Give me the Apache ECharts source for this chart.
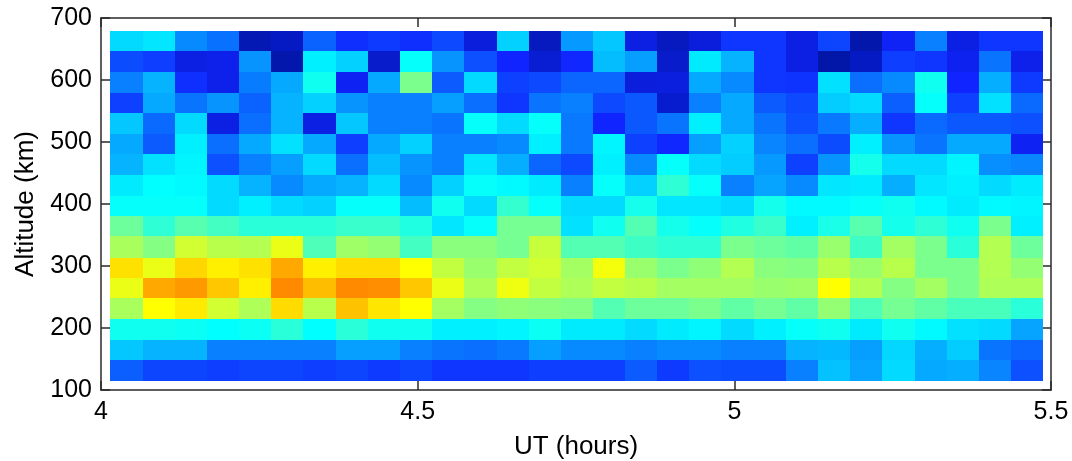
<!DOCTYPE html>
<html>
<head>
<meta charset="utf-8">
<style>html,body{margin:0;padding:0;background:#fff}#c{width:1072px;height:461px}</style>
<script src="https://cdn.jsdelivr.net/npm/echarts@6/dist/echarts.min.js"></script>
</head>
<body>
<div id="c"></div>
<script>
const utHours = [4.040,4.091,4.142,4.193,4.244,4.294,4.345,4.396,4.447,4.497,4.548,4.599,4.650,4.701,4.751,4.802,4.853,4.904,4.954,5.005,5.056,5.107,5.158,5.208,5.259,5.310,5.361,5.412,5.462];
const altitudes = [663,630,597,563,530,497,464,430,397,364,331,297,264,231,198,164,131];
const cellHours = 0.0508;
const cellKm = 33.25;
const alt663 = [.34,.35,.26,.23,.03,.05,.21,.14,.155,.14,.175,.08,.33,.045,.275,.32,.09,.045,.08,.15,.15,.09,.17,.02,.115,.25,.09,.15,.15];
const alt630 = [.18,.16,.09,.10,.27,.02,.36,.33,.06,.38,.27,.185,.125,.07,.13,.31,.28,.06,.355,.30,.15,.09,.015,.05,.16,.15,.105,.235,.10];
const alt597 = [.25,.30,.14,.10,.245,.29,.39,.11,.29,.495,.20,.34,.165,.175,.215,.215,.08,.085,.29,.26,.15,.145,.345,.225,.26,.39,.125,.295,.155];
const alt563 = [.165,.29,.235,.27,.21,.30,.33,.27,.25,.25,.28,.225,.15,.235,.25,.175,.195,.065,.25,.29,.20,.175,.325,.34,.205,.38,.165,.345,.22];
const alt530 = [.32,.22,.34,.09,.225,.30,.09,.32,.25,.25,.235,.38,.34,.38,.24,.125,.195,.235,.36,.29,.235,.185,.24,.295,.15,.22,.195,.195,.185];
const alt497 = [.29,.20,.36,.225,.29,.345,.29,.16,.29,.33,.25,.25,.26,.36,.24,.365,.165,.13,.28,.33,.255,.225,.18,.36,.27,.235,.29,.29,.11];
const alt464 = [.30,.345,.365,.185,.25,.28,.34,.225,.31,.27,.25,.35,.295,.215,.175,.36,.26,.38,.34,.325,.275,.165,.27,.395,.34,.34,.365,.265,.255];
const alt430 = [.355,.375,.37,.34,.30,.26,.29,.30,.34,.26,.33,.38,.37,.355,.25,.38,.33,.42,.38,.25,.285,.26,.35,.355,.295,.35,.36,.34,.355];
const alt397 = [.38,.38,.38,.34,.36,.34,.33,.38,.38,.31,.39,.34,.425,.38,.34,.34,.395,.35,.35,.34,.395,.37,.37,.38,.39,.37,.355,.37,.365];
const alt364 = [.48,.42,.46,.44,.415,.415,.415,.43,.43,.405,.35,.38,.49,.49,.345,.39,.455,.395,.38,.405,.43,.36,.40,.46,.395,.42,.39,.495,.36];
const alt331 = [.54,.505,.58,.555,.55,.605,.45,.53,.52,.44,.51,.51,.49,.57,.455,.455,.435,.42,.42,.495,.48,.47,.525,.435,.535,.495,.415,.55,.48];
const alt297 = [.655,.605,.665,.64,.655,.71,.64,.66,.66,.625,.565,.525,.565,.58,.535,.615,.525,.495,.515,.55,.51,.505,.555,.525,.555,.495,.495,.55,.52];
const alt264 = [.605,.71,.725,.68,.64,.74,.69,.74,.735,.68,.605,.545,.61,.565,.545,.565,.555,.535,.535,.535,.525,.53,.625,.55,.505,.535,.495,.545,.545];
const alt231 = [.54,.625,.645,.58,.545,.66,.555,.685,.65,.625,.535,.505,.515,.51,.505,.455,.48,.48,.495,.47,.49,.47,.52,.45,.49,.47,.445,.445,.415];
const alt198 = [.39,.39,.385,.375,.385,.415,.375,.415,.39,.39,.36,.36,.365,.385,.355,.355,.34,.355,.365,.34,.36,.38,.39,.355,.39,.37,.345,.34,.285];
const alt164 = [.32,.30,.30,.25,.25,.25,.25,.28,.28,.25,.235,.225,.24,.28,.26,.26,.25,.26,.26,.25,.25,.30,.305,.28,.335,.295,.325,.235,.215];
const alt131 = [.205,.17,.17,.16,.17,.17,.16,.17,.155,.17,.15,.15,.15,.16,.16,.16,.20,.155,.185,.18,.18,.25,.315,.285,.34,.29,.295,.255,.185];
const rows = [alt663,alt630,alt597,alt563,alt530,alt497,alt464,alt430,alt397,alt364,alt331,alt297,alt264,alt231,alt198,alt164,alt131];
const jet = ['#00149c','#1024ff','#0880ff','#00ffff','#80ff88','#ffff00','#ff8000','#ff0000','#800000'];

const cells = [];
rows.forEach((r,i)=>r.forEach((v,j)=>cells.push([utHours[j],altitudes[i],v,i,j])));

const font = 'Liberation Sans, Arial, sans-serif';
const lineCol = '#2a2a2a';
const chart = echarts.init(document.getElementById('c'),null,{renderer:'canvas'});
function axisCommon(){return {
  axisLine:{show:true,onZero:false,lineStyle:{color:lineCol,width:1.5}},
  axisTick:{show:true,inside:true,length:9,lineStyle:{color:lineCol,width:1.5}},
  splitLine:{show:false}
};}
function xEdge(j){return j<utHours.length?utHours[j]-cellHours/2:utHours[j-1]+cellHours/2;}
function yEdge(i){return i<altitudes.length?altitudes[i]+cellKm/2:altitudes[i-1]-cellKm/2;}
chart.setOption({
  animation:false,
  backgroundColor:'#fff',
  grid:{left:101,right:21,top:18,bottom:71,containLabel:false,outerBoundsMode:'none'},
  xAxis:[
    Object.assign(axisCommon(),{type:'value',min:4,max:5.5,interval:0.5,position:'bottom',
      axisLabel:{color:'#000',fontFamily:font,fontSize:25,margin:10,hideOverlap:false,showMinLabel:true,showMaxLabel:true},
      name:'UT (hours)',nameLocation:'middle',nameGap:44,
      nameTextStyle:{color:'#000',fontFamily:font,fontSize:26}}),
    Object.assign(axisCommon(),{type:'value',min:4,max:5.5,interval:0.5,position:'top',axisLabel:{show:false}})
  ],
  yAxis:[
    Object.assign(axisCommon(),{type:'value',min:100,max:700,interval:100,position:'left',
      axisLabel:{color:'#000',fontFamily:font,fontSize:25,margin:9,showMinLabel:true,showMaxLabel:true},
      name:'Altitude (km)',nameLocation:'middle',nameGap:62,
      nameTextStyle:{color:'#000',fontFamily:font,fontSize:26}}),
    Object.assign(axisCommon(),{type:'value',min:100,max:700,interval:100,position:'right',axisLabel:{show:false}})
  ],
  visualMap:{show:false,type:'continuous',min:0,max:1,dimension:2,seriesIndex:0,inRange:{color:jet}},
  series:[{
    type:'custom',
    coordinateSystem:'cartesian2d',
    xAxisIndex:0,yAxisIndex:0,
    data:cells,
    encode:{x:0,y:1},
    renderItem(params,api){
      const i=api.value(3),j=api.value(4);
      const a=api.coord([xEdge(j),yEdge(i)]);
      const b=api.coord([xEdge(j+1),yEdge(i+1)]);
      const x0=Math.round(a[0]),y0=Math.round(a[1]),x1=Math.round(b[0]),y1=Math.round(b[1]);
      return {type:'rect',shape:{x:x0,y:y0,width:x1-x0,height:y1-y0},style:{fill:api.visual('color')}};
    }
  }]
});
</script>
</body>
</html>
